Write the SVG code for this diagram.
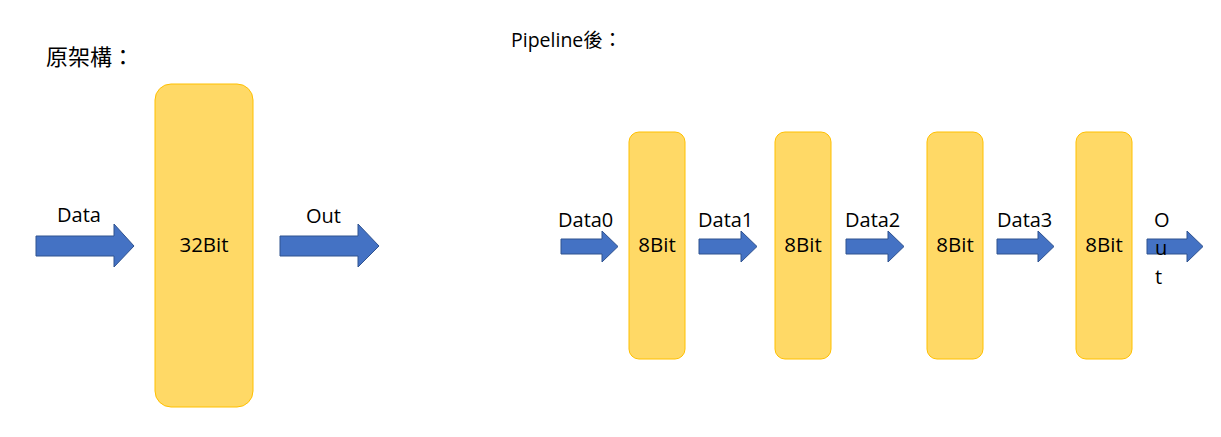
<svg xmlns="http://www.w3.org/2000/svg" width="1221" height="437" viewBox="0 0 1221 437">
<style>
.box{fill:#FFD966;stroke:#FFC000;stroke-width:1}
.arr{fill:#4472C4;stroke:#2F528F;stroke-width:1}
text{font-family:"Open Sans","Noto Sans","Noto Sans CJK TC",sans-serif;font-size:20px;fill:#000}
.cjk{font-family:"Noto Sans CJK TC","Noto Sans CJK SC",sans-serif}
</style>
<rect width="1221" height="437" fill="#fff"/>
<text class="cjk" x="46" y="65" style="font-size:22px">原架構：</text>
<text x="511" y="47" style="font-size:19.5px">Pipeline<tspan class="cjk">後：</tspan></text>

<g id="node-32bit">
<rect class="box" x="155" y="84" width="98" height="323" rx="16"/>
<text x="204" y="252" text-anchor="middle" style="font-size:20.5px">32Bit</text>
</g>
<g id="node-8bit-1">
<rect class="box" x="629" y="132" width="56" height="227" rx="10"/>
<text x="657" y="252" text-anchor="middle" style="font-size:20.5px">8Bit</text>
</g>
<g id="node-8bit-2">
<rect class="box" x="775" y="132" width="56" height="227" rx="10"/>
<text x="803" y="252" text-anchor="middle" style="font-size:20.5px">8Bit</text>
</g>
<g id="node-8bit-3">
<rect class="box" x="927" y="132" width="56" height="227" rx="10"/>
<text x="955" y="252" text-anchor="middle" style="font-size:20.5px">8Bit</text>
</g>
<g id="node-8bit-4">
<rect class="box" x="1076" y="132" width="56" height="227" rx="10"/>
<text x="1104" y="252" text-anchor="middle" style="font-size:20.5px">8Bit</text>
</g>

<g id="connectors">
<path class="arr" d="M36,236 H114 V224 L134,246 L114,267 V256 H36 Z"/>
<path class="arr" d="M280,236 H358 V224 L379,246 L358,267 V256 H280 Z"/>
<path class="arr" d="M561,239 H602 V231 L618,246.5 L602,262 V254 H561 Z"/>
<path class="arr" d="M699,239 H741 V231 L757,246.5 L741,262 V254 H699 Z"/>
<path class="arr" d="M846,239 H888 V231 L904,246.5 L888,262 V254 H846 Z"/>
<path class="arr" d="M997,239 H1038 V231 L1054,246.5 L1038,262 V254 H997 Z"/>
<path class="arr" d="M1147,239 H1187 V231 L1203,246.5 L1187,262 V254 H1147 Z"/>
<text x="57" y="222">Data</text>
<text x="306" y="223">Out</text>
<text x="558" y="227">Data0</text>
<text x="698" y="227">Data1</text>
<text x="845" y="227">Data2</text>
<text x="997" y="227">Data3</text>
<text x="1154" y="227">O</text>
<text x="1155" y="255">u</text>
<text x="1155" y="284">t</text>
</g>
</svg>
